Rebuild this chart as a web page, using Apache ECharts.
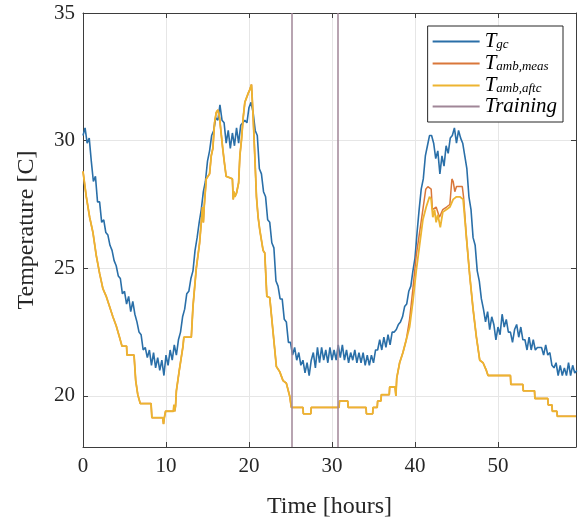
<!DOCTYPE html>
<html>
<head>
<meta charset="utf-8">
<script src="https://cdn.jsdelivr.net/npm/echarts@6/dist/echarts.min.js"></script>
<style>
  html, body { margin: 0; padding: 0; background: #fff; }
  #chart { width: 579px; height: 517px; }
</style>
</head>
<body>
<div id="chart"></div>
<script>
// sample step of the gas cooler temperature log [hours]
var sampleStep = 0.25;

// T_gc, one value every sampleStep hours starting at 0
var gcTemp = [
  30.2, 30.5, 29.9, 30.1, 29.2, 28.4, 28.6, 27.6, 27.6, 26.8, 26.9, 26.4, 26.3, 25.9, 25.7, 25.3,
  25.1, 24.7, 24.6, 24.0, 24.1, 23.6, 23.9, 23.3, 23.7, 23.2, 22.9, 22.5, 22.4, 21.8, 21.9, 21.5,
  21.8, 21.2, 21.7, 21.1, 21.5, 21.0, 21.4, 20.8, 21.6, 21.2, 21.8, 21.4, 22.0, 21.6, 22.2, 22.5,
  23.1, 23.4, 24.0, 24.1, 24.6, 24.9, 25.7, 26.2, 26.8, 27.3, 28.0, 28.4, 29.2, 29.6, 30.2, 30.4,
  30.9, 30.8, 31.4, 30.8, 30.7, 29.9, 30.4, 29.7, 30.3, 29.8, 30.5, 29.9, 30.6, 30.7, 30.8, 30.7,
  31.3, 31.5, 31.1, 30.4, 30.2, 28.9, 28.7, 28.0, 27.8, 26.9, 26.8, 26.0, 25.8, 24.5, 24.3, 23.8,
  23.8, 23.0, 22.9, 22.1, 22.1, 21.6, 21.9, 21.4, 21.7, 21.2, 21.4, 20.9, 21.3, 20.8, 21.4, 21.7,
  21.1, 21.9, 21.3, 21.9, 21.4, 21.8, 21.3, 21.9, 21.4, 21.8, 21.4, 22.0, 21.5, 22.0, 21.4, 21.8,
  21.3, 21.7, 21.4, 21.8, 21.3, 21.7, 21.3, 21.7, 21.2, 21.6, 21.2, 21.6, 21.3, 21.8, 21.8, 22.2,
  21.8, 22.3, 21.9, 22.4, 22.0, 22.5, 22.5, 22.6, 22.8, 22.9, 23.1, 23.5, 23.6, 24.1, 24.3, 24.9,
  25.4, 26.4, 27.3, 28.1, 28.5, 29.4, 29.8, 30.2, 30.2, 29.9, 29.3, 29.6, 28.7, 29.4, 29.0, 29.8,
  29.5, 30.1, 30.2, 30.5, 29.9, 30.4, 30.1, 29.9, 29.4, 28.9, 27.8, 27.3, 26.2, 25.9, 24.9, 24.5,
  23.8, 23.4, 22.9, 23.3, 22.6, 23.1, 22.8, 22.2, 22.7, 22.4, 23.2, 22.7, 23.0, 22.5, 22.5, 22.1,
  22.6, 22.8, 22.3, 22.7, 22.2, 22.2, 21.8, 22.3, 21.8, 22.2, 21.8, 21.9, 21.9, 21.9, 21.6, 22.0,
  21.6, 21.7, 21.2, 21.1, 21.3, 20.8, 21.2, 20.8, 21.1, 20.8, 21.3, 20.8, 21.2, 20.9, 21.0
];

// T_amb,aftc as [hour, temp] change points (quantised sensor -> steps)
var ambAftc = [
  [0, 28.8], [0.4, 27.8], [0.8, 27.0], [1.2, 26.4], [1.6, 25.5], [2.0, 24.8], [2.4, 24.2], [2.8, 23.9],
  [3.2, 23.5], [3.6, 23.1], [4.0, 22.75], [4.4, 22.3], [4.7, 21.95], [5.25, 21.95], [5.3, 21.6], [6.15, 21.6],
  [6.35, 20.6], [6.6, 20.05], [6.9, 19.7], [8.2, 19.7], [8.3, 19.15], [9.6, 19.15], [9.7, 18.9], [9.8, 19.15],
  [9.95, 19.4], [10.9, 19.4], [10.95, 19.65], [11.05, 19.4], [11.15, 19.6], [11.25, 20.2], [11.6, 21.0], [12.05, 21.95],
  [12.15, 22.3], [13.05, 22.3], [13.25, 23.5], [13.65, 25.0], [14.05, 26.0], [14.25, 26.8], [14.4, 27.4], [14.5, 26.8],
  [14.6, 27.4], [14.85, 28.5], [15.25, 28.7], [15.45, 29.4], [15.65, 29.7], [15.85, 30.7], [16.05, 31.1], [16.25, 31.2],
  [16.45, 30.9], [16.65, 30.95], [16.85, 29.65], [17.05, 29.1], [17.25, 28.6], [17.65, 28.55], [18.0, 28.5], [18.1, 27.7],
  [18.2, 28.0], [18.3, 27.8], [18.5, 27.95], [18.75, 28.35], [18.9, 29.4], [19.1, 30.05], [19.3, 30.9], [19.5, 31.5],
  [19.7, 31.5], [19.9, 31.85], [20.1, 32.0], [20.3, 32.2], [20.5, 30.95], [20.7, 29.4], [20.9, 27.8], [21.1, 27.0],
  [21.3, 26.5], [21.7, 25.7], [21.9, 25.6], [22.15, 23.9], [22.5, 23.85], [22.9, 22.5], [23.3, 21.15], [23.7, 20.95],
  [24.1, 20.6], [24.5, 20.5], [24.9, 20.0], [25.1, 19.55], [26.5, 19.55], [26.55, 19.3], [27.45, 19.3], [27.5, 19.55],
  [30.85, 19.55], [30.9, 19.8], [31.9, 19.8], [31.95, 19.55], [34.1, 19.55], [34.15, 19.3], [34.9, 19.3], [34.95, 19.55],
  [35.45, 19.55], [35.5, 19.8], [35.9, 19.8], [35.95, 20.05], [36.9, 20.05], [36.95, 20.35], [37.6, 20.35], [37.7, 20.0],
  [37.8, 20.7], [38.15, 21.3], [38.55, 21.7], [38.95, 22.2], [39.35, 22.7], [39.75, 23.7], [40.15, 24.9], [40.55, 25.9],
  [40.95, 26.9], [41.35, 27.4], [41.75, 27.8], [41.95, 27.7], [42.15, 27.0], [42.35, 27.3], [42.55, 26.8], [42.75, 27.1],
  [43.05, 26.6], [43.35, 27.2], [43.8, 27.3], [44.2, 27.4], [44.6, 27.7], [45.0, 27.8], [45.4, 27.8], [45.8, 27.7],
  [46.2, 26.2], [46.6, 24.7], [47.0, 23.4], [47.4, 22.3], [47.8, 21.4], [48.2, 21.3], [48.6, 21.0], [48.8, 20.8],
  [51.5, 20.8], [51.55, 20.45], [53.0, 20.45], [53.05, 20.2], [54.4, 20.2], [54.45, 19.9], [56.0, 19.9], [56.05, 19.65],
  [56.5, 19.65], [56.55, 19.4], [57.1, 19.4], [57.15, 19.2], [59.4, 19.2]
];

// T_amb,meas only differs from the corrected one on the second day's peak
var ambMeasPeak = [
  [39.35, 23.0], [39.75, 24.2], [40.15, 25.5], [40.55, 26.4], [40.95, 27.3], [41.3, 28.1], [41.55, 28.2], [41.95, 28.1],
  [42.1, 27.3], [42.55, 27.4], [42.95, 27.0], [43.35, 27.3], [43.8, 27.4], [44.2, 27.5], [44.45, 28.5], [44.6, 28.4],
  [44.8, 28.0], [45.0, 28.2], [45.7, 28.2], [45.85, 27.8], [46.2, 26.2]
];

// training window borders [hours]
var trainingBounds = [25.15, 30.65];

var gcData = gcTemp.map(function(v, i) { return [i * sampleStep, v]; });
var peakStart = ambMeasPeak[0][0], peakEnd = ambMeasPeak[ambMeasPeak.length - 1][0];
var ambMeas = ambAftc.filter(function(p) { return p[0] < peakStart; })
  .concat(ambMeasPeak)
  .concat(ambAftc.filter(function(p) { return p[0] > peakEnd; }));

var font = 'Liberation Serif';
var txt = '#262626';
var axisCol = '#3d3d3d';

var myChart = echarts.init(document.getElementById('chart'));

function baseX(pos, showLabel) {
  return {
    type: 'value',
    position: pos,
    min: 0,
    max: 59.4,
    interval: 10,
    axisLine: { show: true, onZero: false, lineStyle: { color: axisCol, width: 1 } },
    axisTick: { show: true, inside: true, length: 5, lineStyle: { color: axisCol } },
    axisLabel: {
      show: showLabel, showMaxLabel: false, margin: 9,
      color: txt, fontFamily: font, fontSize: 21
    },
    splitLine: { show: showLabel, lineStyle: { color: '#e6e6e6', width: 1 } }
  };
}

function baseY(pos, showLabel) {
  return {
    type: 'value',
    position: pos,
    min: 18,
    max: 35,
    splitNumber: 4,
    axisLine: { show: true, onZero: false, lineStyle: { color: axisCol, width: 1 } },
    axisTick: { show: true, inside: true, length: 5, lineStyle: { color: axisCol } },
    axisLabel: {
      show: showLabel, showMinLabel: false, margin: 8,
      color: txt, fontFamily: font, fontSize: 21
    },
    splitLine: { show: showLabel, lineStyle: { color: '#e6e6e6', width: 1 } }
  };
}

var xMain = baseX('bottom', true);
xMain.name = 'Time [hours]';
xMain.nameLocation = 'middle';
xMain.nameGap = 48;
xMain.nameTextStyle = { color: txt, fontFamily: font, fontSize: 24 };

var yMain = baseY('left', true);
yMain.name = 'Temperature [C]';
yMain.nameLocation = 'middle';
yMain.nameGap = 44;
yMain.nameTextStyle = { color: txt, fontFamily: font, fontSize: 24 };

var option = {
  animation: false,
  backgroundColor: '#fff',
  grid: { left: 83, right: 3, top: 13, bottom: 70, containLabel: false, outerBoundsMode: 'none' },
  xAxis: [xMain, baseX('top', false)],
  yAxis: [yMain, baseY('right', false)],
  legend: {
    orient: 'vertical',
    right: 16,
    top: 26,
    backgroundColor: '#fff',
    borderColor: '#262626',
    borderWidth: 1,
    padding: [4, 6, 5, 5],
    itemGap: 0,
    itemWidth: 47,
    itemHeight: 2,
    icon: 'rect',
    data: ['gc', 'amb,meas', 'amb,aftc', 'Training'],
    formatter: function(name) {
      if (name === 'Training') return '{t|Training}';
      return '{t|T}{s|' + name + '}';
    },
    textStyle: {
      rich: {
        t: { fontFamily: font, fontStyle: 'italic', fontSize: 21, color: '#000', lineHeight: 19 },
        s: { fontFamily: font, fontStyle: 'italic', fontSize: 13, color: '#000', lineHeight: 11, verticalAlign: 'bottom', padding: [8, 0, 0, 0] }
      }
    }
  },
  series: [{
    name: 'gc',
    type: 'line',
    data: gcData,
    showSymbol: false,
    symbol: 'none',
    color: '#2a6fa8',
    lineStyle: { width: 1.6 }
  }, {
    name: 'amb,meas',
    type: 'line',
    data: ambMeas,
    showSymbol: false,
    symbol: 'none',
    color: '#d9773a',
    lineStyle: { width: 1.5 }
  }, {
    name: 'amb,aftc',
    type: 'line',
    data: ambAftc,
    showSymbol: false,
    symbol: 'none',
    color: '#edb430',
    lineStyle: { width: 1.8 }
  }, {
    name: 'Training',
    type: 'line',
    data: [],
    symbol: 'none',
    color: '#a08697',
    lineStyle: { width: 1.5 },
    markLine: {
      silent: true,
      symbol: ['none', 'none'],
      label: { show: false },
      lineStyle: { color: '#a08697', width: 1.5, type: 'solid' },
      data: trainingBounds.map(function(t) { return { xAxis: t }; })
    }
  }]
};
myChart.setOption(option);
</script>
</body>
</html>
